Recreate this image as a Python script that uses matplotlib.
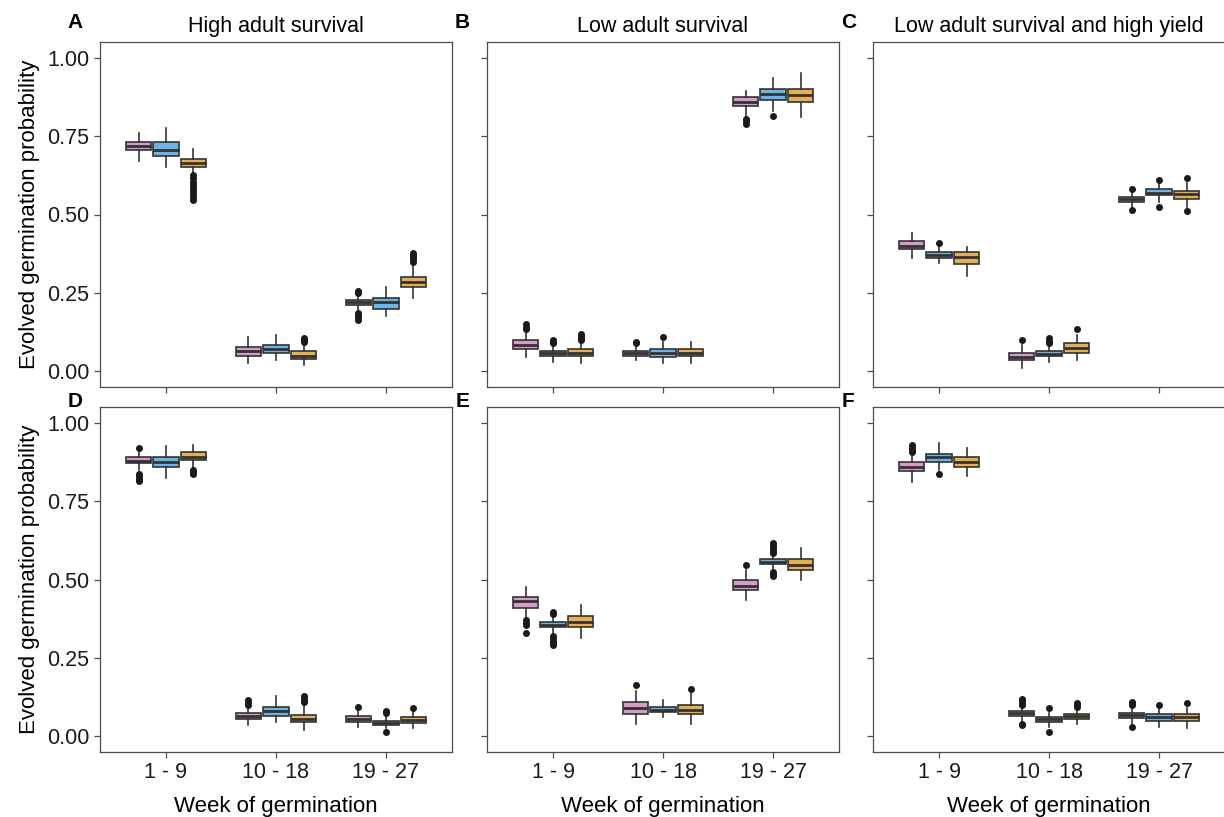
import matplotlib.pyplot as plt
import numpy as np

groups = ["1 - 9", "10 - 18", "19 - 27"]
colors = ["#D49BCB", "#6CB4E6", "#E5B055"]
titles = ["High adult survival", "Low adult survival", "Low adult survival and high yield", "", "", ""]
letters = ["A", "B", "C", "D", "E", "F"]

# per panel, per group, per series: (whislo, q1, med, q3, whishi), fliers
panel_A = [
    [((0.67, 0.705, 0.718, 0.73, 0.76), []),
     ((0.65, 0.685, 0.705, 0.73, 0.775), []),
     ((0.63, 0.652, 0.665, 0.678, 0.71), [0.545, 0.555, 0.565, 0.575, 0.585, 0.595, 0.605, 0.615, 0.625])],
    [((0.025, 0.05, 0.065, 0.078, 0.11), []),
     ((0.035, 0.058, 0.07, 0.083, 0.115), []),
     ((0.02, 0.038, 0.05, 0.065, 0.09), [0.095, 0.1, 0.105])],
    [((0.195, 0.212, 0.22, 0.228, 0.245), [0.165, 0.172, 0.18, 0.187, 0.25, 0.257]),
     ((0.175, 0.2, 0.22, 0.235, 0.27), []),
     ((0.235, 0.268, 0.285, 0.302, 0.345), [0.35, 0.357, 0.365, 0.372, 0.378])],
]
panel_B = [
    [((0.045, 0.07, 0.085, 0.1, 0.13), [0.135, 0.142, 0.15]),
     ((0.03, 0.05, 0.058, 0.065, 0.085), [0.09, 0.095, 0.1]),
     ((0.025, 0.048, 0.06, 0.07, 0.095), [0.1, 0.107, 0.114, 0.12])],
    [((0.035, 0.05, 0.058, 0.066, 0.08), [0.09, 0.095]),
     ((0.025, 0.045, 0.06, 0.07, 0.095), [0.11]),
     ((0.025, 0.048, 0.06, 0.07, 0.095), [])],
    [((0.81, 0.845, 0.86, 0.875, 0.895), [0.79, 0.797, 0.805]),
     ((0.83, 0.865, 0.885, 0.9, 0.935), [0.815]),
     ((0.81, 0.86, 0.88, 0.9, 0.95), [])],
]
panel_C = [
    [((0.36, 0.39, 0.40, 0.415, 0.44), []),
     ((0.345, 0.36, 0.37, 0.38, 0.395), [0.41]),
     ((0.305, 0.342, 0.365, 0.38, 0.395), [])],
    [((0.01, 0.035, 0.045, 0.06, 0.085), [0.1]),
     ((0.03, 0.048, 0.055, 0.065, 0.08), [0.09, 0.097, 0.105]),
     ((0.035, 0.06, 0.075, 0.09, 0.115), [0.135])],
    [((0.525, 0.54, 0.55, 0.555, 0.575), [0.515, 0.58]),
     ((0.54, 0.562, 0.57, 0.58, 0.6), [0.525, 0.61]),
     ((0.525, 0.55, 0.565, 0.575, 0.6), [0.51, 0.615])],
]
panel_D = [
    [((0.85, 0.87, 0.879, 0.89, 0.91), [0.815, 0.822, 0.83, 0.837, 0.92]),
     ((0.825, 0.86, 0.875, 0.89, 0.925), []),
     ((0.855, 0.88, 0.89, 0.905, 0.93), [0.835, 0.842, 0.85])],
    [((0.035, 0.055, 0.065, 0.075, 0.095), [0.1, 0.107, 0.115]),
     ((0.045, 0.065, 0.08, 0.095, 0.13), []),
     ((0.02, 0.045, 0.055, 0.068, 0.1), [0.11, 0.117, 0.125, 0.13])],
    [((0.03, 0.045, 0.055, 0.065, 0.085), [0.095]),
     ((0.025, 0.037, 0.042, 0.05, 0.065), [0.015, 0.075, 0.08]),
     ((0.025, 0.042, 0.052, 0.062, 0.08), [0.09])],
]
panel_E = [
    [((0.375, 0.41, 0.43, 0.445, 0.475), [0.33, 0.355, 0.362, 0.37]),
     ((0.33, 0.35, 0.355, 0.365, 0.385), [0.29, 0.297, 0.305, 0.312, 0.32, 0.39, 0.397]),
     ((0.315, 0.35, 0.365, 0.385, 0.42), [])],
    [((0.04, 0.072, 0.09, 0.11, 0.145), [0.165]),
     ((0.06, 0.078, 0.085, 0.095, 0.115), []),
     ((0.04, 0.07, 0.085, 0.1, 0.14), [0.15])],
    [((0.435, 0.465, 0.48, 0.5, 0.53), [0.545]),
     ((0.535, 0.55, 0.555, 0.565, 0.58), [0.51, 0.518, 0.525, 0.585, 0.592, 0.6, 0.607, 0.615]),
     ((0.5, 0.53, 0.545, 0.565, 0.6), [])],
]
panel_F = [
    [((0.81, 0.845, 0.86, 0.875, 0.9), [0.905, 0.912, 0.92, 0.928]),
     ((0.85, 0.875, 0.89, 0.9, 0.935), [0.835]),
     ((0.83, 0.86, 0.875, 0.89, 0.92), [])],
    [((0.05, 0.065, 0.075, 0.08, 0.095), [0.035, 0.04, 0.1, 0.107, 0.115, 0.12]),
     ((0.03, 0.045, 0.055, 0.06, 0.075), [0.015, 0.09]),
     ((0.04, 0.055, 0.065, 0.07, 0.085), [0.095, 0.1, 0.105])],
    [((0.04, 0.058, 0.068, 0.075, 0.095), [0.03, 0.1, 0.105, 0.11]),
     ((0.03, 0.05, 0.06, 0.07, 0.09), [0.1]),
     ((0.025, 0.048, 0.06, 0.07, 0.09), [0.105])],
]
panels = [panel_A, panel_B, panel_C, panel_D, panel_E, panel_F]

plt.rcParams['font.family'] = ['Liberation Sans', 'DejaVu Sans']
fig = plt.figure(figsize=(12.24, 8.17), dpi=100)

lefts = [100, 487, 873]
tops = [42, 407]
w, h = 352, 345
frame = "#4d4d4d"

for i, data in enumerate(panels):
    r, c = divmod(i, 3)
    ax = fig.add_axes([lefts[c] / 1224, (817 - tops[r] - h) / 817, w / 1224, h / 817])
    for g, grp in enumerate(data):
        for s, (st, fl) in enumerate(grp):
            lo, q1, med, q3, hi = st
            stats = [dict(whislo=lo, q1=q1, med=med, q3=q3, whishi=hi, fliers=fl)]
            ax.bxp(stats, positions=[g + 1 + (s - 1) * 0.25], widths=0.235,
                   patch_artist=True, showcaps=False,
                   boxprops=dict(facecolor=colors[s], edgecolor="#333333", linewidth=1.2),
                   whiskerprops=dict(color="#333333", linewidth=1.2),
                   medianprops=dict(color="#333333", linewidth=2.0),
                   flierprops=dict(marker="o", markerfacecolor="#1a1a1a",
                                   markeredgecolor="#1a1a1a", markersize=4))
    ax.set_xlim(0.4, 3.6)
    ax.set_ylim(-0.05, 1.05)
    ax.set_xticks([1, 2, 3])
    ax.set_yticks([0, 0.25, 0.5, 0.75, 1.0])
    ax.tick_params(colors=frame, length=4, width=0.9, labelsize=15.5, labelcolor="#1a1a1a")
    for sp in ax.spines.values():
        sp.set_color(frame)
        sp.set_linewidth(0.9)
    if c == 0:
        ax.set_yticklabels(["0.00", "0.25", "0.50", "0.75", "1.00"])
        ax.set_ylabel("Evolved germination probability", fontsize=16, labelpad=5)
    else:
        ax.set_yticklabels([])
    if r == 1:
        ax.set_xticklabels(groups)
        ax.set_xlabel("Week of germination", fontsize=16, labelpad=9)
    else:
        ax.set_xticklabels([])
    if titles[i]:
        ax.set_title(titles[i], fontsize=15.5, pad=7)
    ly = 1.04 if r == 0 else 1.0
    ax.text(-0.07, ly, letters[i], transform=ax.transAxes, fontsize=15,
            fontweight="bold", ha="center", va="baseline")

fig.savefig("out.png", dpi=100)
